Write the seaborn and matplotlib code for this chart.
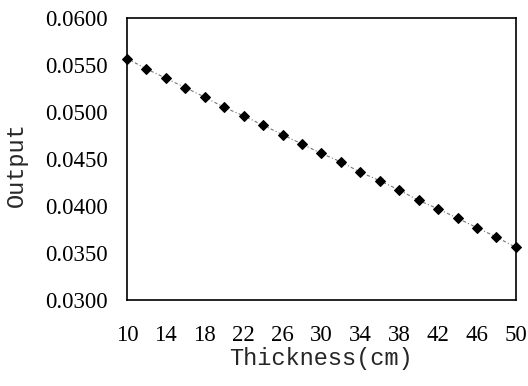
import numpy as np
import pandas as pd
import seaborn as sns
import matplotlib.pyplot as plt

# thickness (cm) vs output
thickness = [10, 12, 14, 16, 18, 20, 22, 24, 26, 28, 30,
             32, 34, 36, 38, 40, 42, 44, 46, 48, 50]
output = [0.0557, 0.0546, 0.0536, 0.0526, 0.0516, 0.0505, 0.0496,
          0.0486, 0.0476, 0.0466, 0.0456, 0.0447, 0.0436, 0.0427,
          0.0417, 0.0406, 0.0397, 0.0387, 0.0377, 0.0367, 0.0356]
x_ticks = [10, 14, 18, 22, 26, 30, 34, 38, 42, 46, 50]
y_ticks = [0.030, 0.035, 0.040, 0.045, 0.050, 0.055, 0.060]

df = pd.DataFrame({'thickness': thickness, 'output': output})

sns.set_style('white')
plt.rcParams['font.family'] = ['Liberation Serif', 'DejaVu Serif']

fig = plt.figure(figsize=(5.28, 3.86), dpi=100)
ax = fig.add_axes([0.2405, 0.2228, 0.7365, 0.7302])

sns.lineplot(data=df, x='thickness', y='output', ax=ax,
             color='#777777', linewidth=0.8, linestyle=(0, (3, 2, 1, 2)),
             marker='D', markersize=5.5, markerfacecolor='black',
             markeredgecolor='black', clip_on=False)

ax.set_xlim(10, 50)
ax.set_ylim(0.030, 0.060)
ax.set_xticks(x_ticks)
ax.set_yticks(y_ticks)
ax.set_yticklabels(['{:.4f}'.format(v) for v in y_ticks])
ax.tick_params(axis='both', direction='in', length=5, width=1,
               labelsize=16.5, colors='black')
ax.tick_params(axis='x', pad=18)
ax.tick_params(axis='y', pad=14)
for sp in ax.spines.values():
    sp.set_color('black')
    sp.set_linewidth(1.2)

ax.set_xlabel('Thickness(cm)', fontsize=17, family='Liberation Mono', labelpad=1)
ax.set_ylabel('Output', fontsize=17, family='Liberation Mono')
ax.yaxis.set_label_coords(-0.254, 0.48)

fig.savefig('out.png', dpi=100)
